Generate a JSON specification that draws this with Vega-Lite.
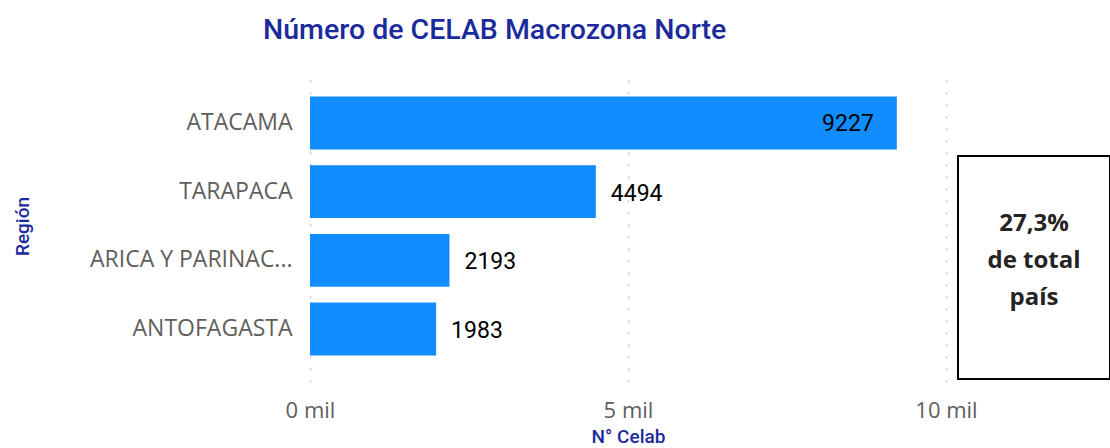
{
  "$schema": "https://vega.github.io/schema/vega-lite/v6.json",
  "padding": {"left": 13, "top": 15, "right": 0, "bottom": 0},
  "title": {
    "text": "Número de CELAB Macrozona Norte",
    "anchor": "start",
    "dx": 250,
    "font": "Roboto",
    "fontSize": 28.5,
    "fontWeight": 500,
    "color": "#1B2A9C",
    "offset": 26
  },
  "bounds": "flush",
  "spacing": 12,
  "hconcat": [
    {
      "width": 636,
      "height": 312,
      "data": {
        "values": [
          {"region": "ATACAMA", "celab": 9227},
          {"region": "TARAPACA", "celab": 4494},
          {"region": "ARICA Y PARINACOTA", "celab": 2193},
          {"region": "ANTOFAGASTA", "celab": 1983}
        ]
      },
      "encoding": {
        "y": {
          "field": "region",
          "type": "nominal",
          "sort": ["ATACAMA", "TARAPACA", "ARICA Y PARINACOTA", "ANTOFAGASTA"],
          "scale": {"paddingInner": 0.23, "paddingOuter": 0.386},
          "axis": {
            "title": "Región",
            "titleFont": "Roboto",
            "titleFontSize": 19,
            "titleFontWeight": 500,
            "titleColor": "#1B2A9C",
            "titlePadding": 78,
            "labelFont": "Open Sans",
            "labelFontSize": 23,
            "labelColor": "#605E5C",
            "labelPadding": 18,
            "labelLimit": 400,
            "labelExpr": "length(datum.label) > 15 ? substring(datum.label, 0, 15) + '...' : datum.label",
            "ticks": false,
            "domain": false,
            "grid": false
          }
        },
        "x": {
          "field": "celab",
          "type": "quantitative",
          "scale": {"domain": [0, 10000]},
          "axis": {
            "title": "N° Celab",
            "titleFont": "Roboto",
            "titleFontSize": 19,
            "titleFontWeight": 500,
            "titleColor": "#1B2A9C",
            "titlePadding": 6,
            "values": [0, 5000, 10000],
            "labelExpr": "datum.value / 1000 + ' mil'",
            "labelFlush": false,
            "labelOverlap": false,
            "labelFont": "Open Sans",
            "labelFontSize": 22,
            "labelColor": "#605E5C",
            "labelPadding": 18,
            "ticks": false,
            "domain": false,
            "grid": true,
            "gridColor": "#C8C8C8",
            "gridDash": [2, 10],
            "gridWidth": 1.5
          }
        }
      },
      "layer": [
        {"mark": {"type": "bar", "color": "#118DFF"}},
        {
          "transform": [{"filter": "datum.celab >= 8000"}],
          "mark": {"type": "text", "align": "right", "dx": -23, "dy": 1, "font": "Roboto", "fontSize": 23, "color": "#000000"},
          "encoding": {"text": {"field": "celab", "type": "quantitative", "format": "d"}}
        },
        {
          "transform": [{"filter": "datum.celab < 8000"}],
          "mark": {"type": "text", "align": "left", "dx": 15, "dy": 2, "font": "Roboto", "fontSize": 23, "color": "#000000"},
          "encoding": {"text": {"field": "celab", "type": "quantitative", "format": "d"}}
        }
      ]
    },
    {
      "bounds": "flush",
      "spacing": 0,
      "vconcat": [
        {
          "width": 152,
          "height": 86,
          "data": {"values": [{"t": ""}]},
          "mark": {"type": "text"},
          "encoding": {"text": {"field": "t"}}
        },
        {
          "width": 152,
          "height": 223,
          "view": {"stroke": "#000000", "strokeWidth": 2},
          "data": {"values": [{"etiqueta": "27,3%\nde total\npaís"}]},
          "mark": {"type": "text", "font": "Open Sans", "fontWeight": "bold", "fontSize": 24, "lineBreak": "\n", "lineHeight": 37, "dy": -44, "color": "#252423"},
          "encoding": {"text": {"field": "etiqueta"}}
        }
      ]
    }
  ],
  "config": {
    "view": {"stroke": null},
    "background": "#ffffff"
  }
}
